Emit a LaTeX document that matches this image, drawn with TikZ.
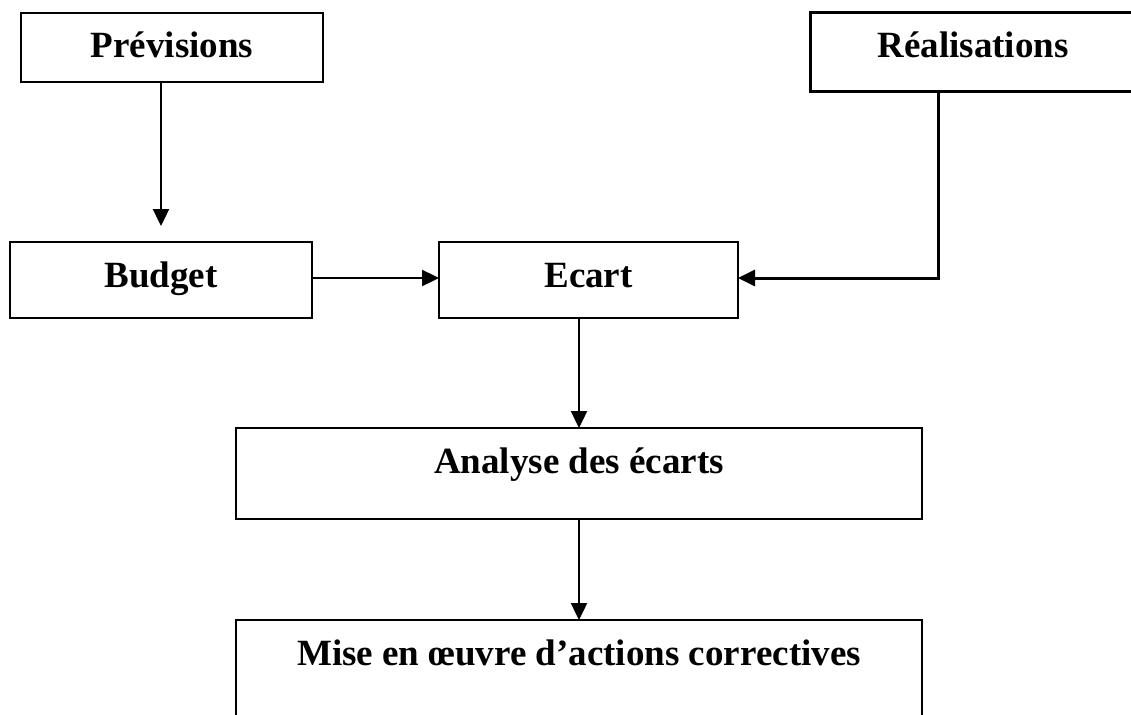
\documentclass[tikz,border=0pt]{standalone}
\usepackage{fontspec}
\setmainfont{Liberation Serif}
\usetikzlibrary{arrows.meta}
\begin{document}
\begin{tikzpicture}[x=1pt,y=-1pt,
  box/.style={draw,line width=2pt,rectangle,inner sep=0pt,outer sep=0pt},
  thickbox/.style={box,line width=3pt},
  lbl/.style={anchor=base,inner sep=0pt,font=\fontsize{37}{40}\selectfont\bfseries},
  arr/.style={line width=2.4pt,-{Triangle[length=17pt,width=16pt]}},
  thickarr/.style={line width=3pt,-{Triangle[length=17pt,width=16pt]}}]
\useasboundingbox (0,0) rectangle (1131,714);
\clip (0,0) rectangle (1131,714);
% boxes
\node[box,minimum width=302pt,minimum height=69pt] (prev) at (172,47.5) {};
\node[thickbox,minimum width=326pt,minimum height=79pt] (real) at (973,52.5) {};
\node[box,minimum width=302pt,minimum height=76pt] (budget) at (161,280) {};
\node[box,minimum width=299pt,minimum height=76pt] (ecart) at (588.5,280) {};
\node[box,minimum width=686pt,minimum height=91pt] (analyse) at (579,473.5) {};
\node[box,minimum width=686pt,minimum height=100pt] (mise) at (579,670) {};
% texts
\node[lbl] (tprev) at (172,57.5) {Prévisions};
\node[lbl] (treal) at (973,58) {Réalisations};
\node[lbl] (tbud) at (161,287) {Budget};
\node[lbl] (tecart) at (588.5,287) {Ecart};
\node[lbl] (tana) at (579,473) {Analyse des écarts};
\node[lbl] (tmise) at (579,665.5) {Mise en œuvre d’actions correctives};
% helper coordinates
\coordinate (col) at (579,0);
\coordinate (rcol) at (938,0);
\coordinate (row) at (0,278);
% connectors
\draw[arr,shorten >=16pt] (budget.north |- prev.south) -- (budget.north);
\draw[arr] (budget.east |- row) -- (ecart.west |- row);
\draw[thickarr] (rcol |- real.south) -- (rcol |- row) -- (ecart.east |- row);
\draw[arr] (col |- ecart.south) -- (col |- analyse.north);
\draw[arr] (col |- analyse.south) -- (col |- mise.north);
\end{tikzpicture}
\end{document}
